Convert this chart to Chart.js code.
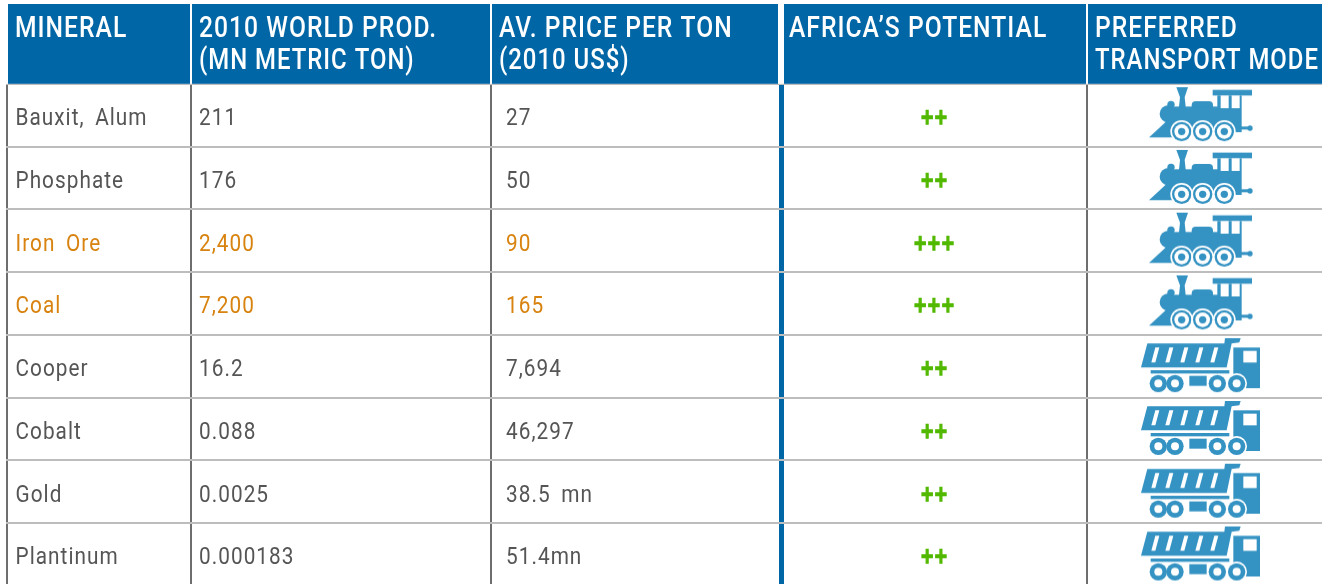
<!DOCTYPE html>
<html>
<head>
<meta charset="utf-8">
<title>Minerals table</title>
<script src="https://cdn.jsdelivr.net/npm/chart.js@4"></script>
<style>
  html,body{margin:0;padding:0;background:#fff;}
  canvas{display:block;}
</style>
</head>
<body>
<canvas id="tbl" width="1330" height="584"></canvas>
<script>
// Minerals table, drawn on a scatter chart

const headers = [
  ['MINERAL'],
  ['2010 WORLD PROD.', '(MN METRIC TON)'],
  ['AV. PRICE PER TON', '(2010 US$)'],
  ['AFRICA\u2019S POTENTIAL'],
  ['PREFERRED', 'TRANSPORT MODE']
];
const minerals = ['Bauxit, Alum','Phosphate','Iron Ore','Coal','Cooper','Cobalt','Gold','Plantinum'];
const production = ['211','176','2,400','7,200','16.2','0.088','0.0025','0.000183'];
const prices = ['27','50','90','165','7,694','46,297','38.5 mn','51.4mn'];
const potential = ['++','++','+++','+++','++','++','++','++'];
const transport = ['train','train','train','train','truck','truck','truck','truck'];
const highlighted = ['Iron Ore','Coal'];

// Layout
const colEdges = [7,191,491,781,1087];
const X_MIN = 6, X_MAX = 1322;
const HEADER_ROWS = 1.2717, Y_MAX = 7.971;
const BLUE = '#0066a6', ICON = '#3593c3', GREY = '#555555', ORANGE = '#d8830f', GREEN = '#52b800';
const HEAD_FONT = '500 29px Roboto', BODY_FONT = '400 24px Roboto';
const HEAD_SQUEEZE = [0.85, 0.825], BODY_SQUEEZE = 0.865;

function rowY(i){ return i + 0.5; }

function iconCanvas(draw){
  const c = document.createElement('canvas');
  c.width = 140; c.height = 70;
  const g = c.getContext('2d');
  g.scale(1/3, 1/3);
  draw(g);
  return c;
}

function wheel(g, x, y, halo, r1, r2, r3){
  g.fillStyle = '#fff'; g.beginPath(); g.arc(x,y,halo,0,7); g.fill();
  g.fillStyle = ICON; g.beginPath(); g.arc(x,y,r1,0,7); g.fill();
  g.fillStyle = '#fff'; g.beginPath(); g.arc(x,y,r2,0,7); g.fill();
  if(r3){ g.fillStyle = ICON; g.beginPath(); g.arc(x,y,r3,0,7); g.fill(); }
}

function poly(g, pts){
  g.beginPath();
  pts.forEach((p,i)=> i ? g.lineTo(p[0],p[1]) : g.moveTo(p[0],p[1]));
  g.closePath();
  g.fill();
}

const trainIcon = iconCanvas(g => {
  g.translate(-15, -1);
  g.fillStyle = ICON;
  poly(g, [[57,173],[112,122],[130,173]]);
  poly(g, [[139,22],[174,22],[164,52],[168,90],[146,90],[150,52]]);
  g.beginPath(); g.arc(123,74,11,0,7); g.fill();
  g.beginPath(); g.arc(115,102,26,0,7); g.fill();
  g.beginPath(); g.roundRect(185,64,64,30,12); g.fill();
  g.fillRect(110,80,160,70);
  g.fillRect(248,30,118,17);
  g.fillRect(262,47,73,110);
  g.fillStyle = '#fff';
  g.fillRect(272,47,24,38);
  g.fillRect(305,47,24,38);
  g.fillStyle = ICON;
  g.fillRect(330,140,30,9);
  g.beginPath(); g.arc(360,145,8,0,7); g.fill();
  wheel(g,155,155,34,29,22,11);
  wheel(g,218,155,34,29,22,11);
  wheel(g,283,155,34,29,22,11);
});

const truckIcon = iconCanvas(g => {
  g.translate(-15, 9);
  g.fillStyle = ICON;
  poly(g, [[52,28],[283,28],[285,12],[332,12],[328,25],[305,28],[290,100],[33,100]]);
  g.fillStyle = '#fff';
  [66,108,153,198,243].forEach(x => poly(g, [[x+10,40],[x+22,40],[x+10,85],[x-2,85]]));
  g.fillStyle = ICON;
  g.fillRect(62,108,236,10);
  g.fillRect(310,40,80,122);
  g.fillStyle = '#fff';
  g.fillRect(340,50,40,35);
  g.fillStyle = ICON;
  g.fillRect(178,125,52,30);
  wheel(g,85,148,0,26,12);
  wheel(g,135,148,0,26,12);
  wheel(g,262,148,0,26,12);
  wheel(g,320,148,31,26,12);
});

// Header cells and cell text, placed with the chart's scales
const tablePlugin = {
  id: 'tablePlugin',
  beforeDatasetsDraw(chart){
    const {ctx, scales:{x,y}} = chart;
    const top = y.getPixelForValue(-HEADER_ROWS), bottom = y.getPixelForValue(0);
    ctx.save();
    ctx.fillStyle = '#fff';
    ctx.fillRect(0, 0, chart.width, bottom);
    ctx.fillStyle = BLUE;
    colEdges.forEach((edge,i) => {
      const left = x.getPixelForValue(edge) + (i === 3 ? 3 : 1);
      const right = x.getPixelForValue(i+1 < colEdges.length ? colEdges[i+1] : X_MAX) - (i === 2 ? 3 : i < 4 ? 1 : 0);
      ctx.fillRect(left, top, right-left, bottom-top);
    });
    ctx.restore();
  },
  afterDatasetsDraw(chart){
    const {ctx, scales:{x,y}} = chart;
    ctx.save();
    ctx.textBaseline = 'alphabetic';

    // headers
    ctx.font = HEAD_FONT;
    ctx.fillStyle = '#fff';
    ctx.letterSpacing = '1.2px';
    headers.forEach((lines,c) => {
      lines.forEach((line,l) => {
        drawText(ctx, line, x.getPixelForValue(colEdges[c]) + 8, 37 + l*32, HEAD_SQUEEZE[l]);
      });
    });

    // body
    ctx.font = BODY_FONT;
    ctx.letterSpacing = '1.2px';
    ctx.wordSpacing = '5px';
    minerals.forEach((name,r) => {
      const py = y.getPixelForValue(rowY(r)) + 10;
      ctx.fillStyle = highlighted.includes(name) ? ORANGE : GREY;
      drawText(ctx, name, x.getPixelForValue(colEdges[0]) + 8.5, py, BODY_SQUEEZE);
      drawText(ctx, production[r], x.getPixelForValue(colEdges[1]) + 8, py, BODY_SQUEEZE);
      drawText(ctx, prices[r], x.getPixelForValue(colEdges[2]) + 15, py, BODY_SQUEEZE);
    });

    // potential marks
    ctx.font = '700 22px "DejaVu Sans"';
    ctx.letterSpacing = '0px';
    ctx.wordSpacing = '0px';
    ctx.textAlign = 'center';
    ctx.fillStyle = GREEN;
    ctx.strokeStyle = GREEN;
    ctx.lineWidth = 1.6;
    potential.forEach((p,r) => {
      const mid = (colEdges[3] + colEdges[4]) / 2;
      ctx.save();
      ctx.translate(x.getPixelForValue(mid) , y.getPixelForValue(rowY(r)) + 9);
      ctx.scale(0.75, 1);
      ctx.fillText(p, 0, 0);
      ctx.strokeText(p, 0, 0);
      ctx.restore();
    });
    ctx.restore();
  }
};

function drawText(ctx, text, px, py, squeeze){
  ctx.save();
  ctx.translate(px, py);
  ctx.scale(squeeze, 1);
  ctx.fillText(text, 0, 0);
  ctx.restore();
}

const iconX = Math.round((colEdges[4] + X_MAX) / 2);
const rowIdx = transport.map((t,i) => i);
const iconData = kind => rowIdx.filter(i => transport[i] === kind).map(i => ({x: iconX, y: rowY(i)}));

new Chart(document.getElementById('tbl'), {
  type: 'scatter',
  data: {
    datasets: [
      { label: 'Train', data: iconData('train'), pointStyle: trainIcon, pointRadius: 35 },
      { label: 'Truck', data: iconData('truck'), pointStyle: truckIcon, pointRadius: 35 }
    ]
  },
  options: {
    responsive: false,
    animation: false,
    layout: { autoPadding: false, padding: { left: X_MIN, right: 1330 - X_MAX, top: 4, bottom: 0 } },
    plugins: { legend: { display: false }, tooltip: { enabled: false } },
    scales: {
      x: {
        type: 'linear', min: X_MIN, max: X_MAX,
        afterBuildTicks: s => { s.ticks = colEdges.map(v => ({value: v})); },
        ticks: { display: false },
        border: { display: false },
        grid: {
          drawTicks: false,
          color: c => c.tick && c.tick.value === colEdges[3] ? BLUE : '#6e6e6e',
          lineWidth: c => c.tick && c.tick.value === colEdges[3] ? 5 : 2
        }
      },
      y: {
        type: 'linear', reverse: true, min: -HEADER_ROWS, max: Y_MAX,
        afterBuildTicks: s => { s.ticks = minerals.map((m,i) => ({value: i})); },
        ticks: { display: false },
        border: { display: false },
        grid: { drawTicks: false, color: '#bdbdbd', lineWidth: 2 }
      }
    }
  },
  plugins: [tablePlugin]
});
</script>
</body>
</html>
